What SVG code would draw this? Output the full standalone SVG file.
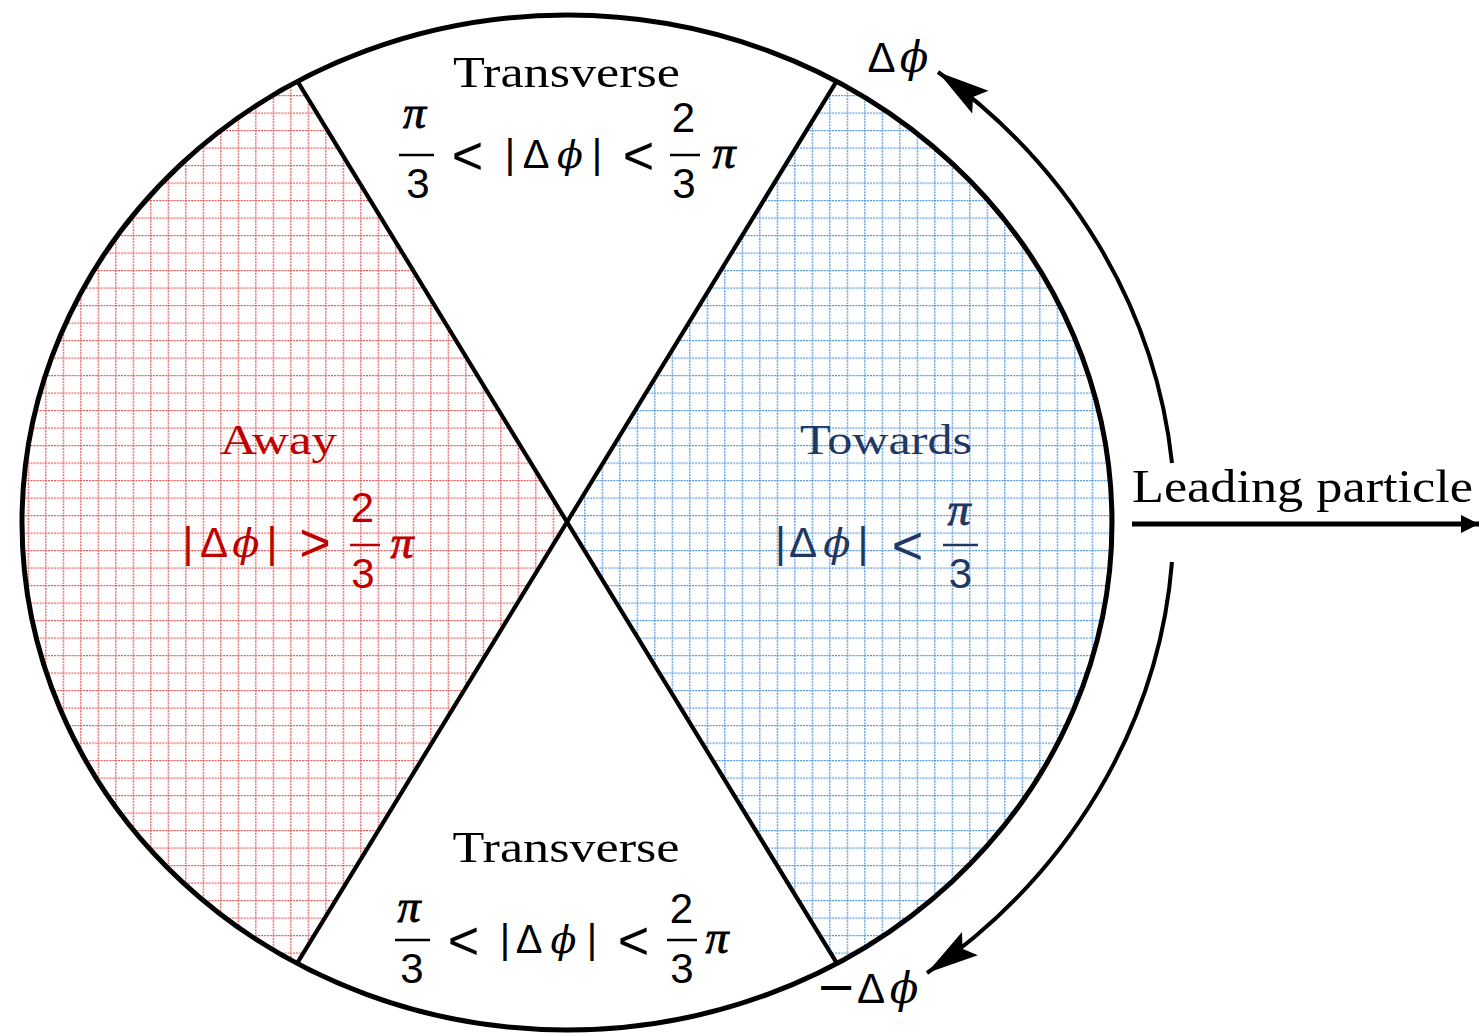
<svg xmlns="http://www.w3.org/2000/svg" width="1481" height="1035" viewBox="0 0 1481 1035">
<style>
.serif{font-family:"Liberation Serif","Times New Roman",serif;}
.sans{font-family:"Liberation Sans",Arial,sans-serif;}
.op{font-family:"Liberation Sans",Arial,sans-serif;}
.dj{font-family:"DejaVu Sans","Liberation Sans",sans-serif;}
.it{font-family:"DejaVu Serif","Liberation Serif",serif;font-style:italic;}
.pi{font-family:"Liberation Serif","DejaVu Serif",serif;font-style:italic;stroke-width:0.9;}
text{text-anchor:middle;}
.k{fill:#000;stroke:#000;stroke-width:0;}
.r{fill:#C00000;stroke:#C00000;stroke-width:0;}
.b{fill:#1F3864;stroke:#1F3864;stroke-width:0;}
.pi.k,.pi.r,.pi.b{stroke-width:0.9;}
.barK{stroke:#000;stroke-width:2.5;}
.barR{stroke:#C00000;stroke-width:2.5;}
.barB{stroke:#1F3864;stroke-width:2.5;}
.edge{fill:none;stroke:#000;stroke-width:4.2;}
</style>
<defs>
<pattern id="hatchRed" patternUnits="userSpaceOnUse" x="10.2" y="7.5" width="17.5" height="17.5">
<line x1="0" y1="0" x2="17.5" y2="0" stroke="#E04848" stroke-width="2.6" stroke-dasharray="1.8 1.2"/>
<line x1="0" y1="0" x2="0" y2="17.5" stroke="#E04848" stroke-width="2.6" stroke-dasharray="1.8 1.2"/>
</pattern>
<pattern id="hatchBlue" patternUnits="userSpaceOnUse" x="6.7" y="7.5" width="17.5" height="17.5">
<line x1="0" y1="0" x2="17.5" y2="0" stroke="#3F8BD9" stroke-width="2.6" stroke-dasharray="1.8 1.2"/>
<line x1="0" y1="0" x2="0" y2="17.5" stroke="#3F8BD9" stroke-width="2.6" stroke-dasharray="1.8 1.2"/>
</pattern>
<marker id="arcHead" markerUnits="userSpaceOnUse" viewBox="-54 -16 56 32" refX="0" refY="0" markerWidth="56" markerHeight="32" orient="auto">
<path d="M0,0 L-52,-14 L-43,0 L-52,14 Z" fill="#000"/>
</marker>
<marker id="lineHead" markerUnits="userSpaceOnUse" viewBox="-20 -10 21 20" refX="0" refY="0" markerWidth="21" markerHeight="20" orient="auto">
<path d="M0,0 L-18,-9 L-18,9 Z" fill="#000"/>
</marker>
</defs>

<g id="region-away">
<path d="M567,522 L297.5,81.3 A545,507.5 0 0 0 297.5,962.7 Z" fill="url(#hatchRed)"/>
<text class="serif r" x="278.5" y="454" font-size="42" textLength="117" lengthAdjust="spacingAndGlyphs">Away</text>
<text class="sans r" x="188" y="557" font-size="42">|</text>
<text class="sans r" x="214" y="557" font-size="42">Δ</text>
<text class="it r" x="246" y="557" font-size="40">ϕ</text>
<text class="sans r" x="272" y="557" font-size="42">|</text>
<text class="op r" x="315" y="561" font-size="54">&gt;</text>
<text class="sans r" x="362.5" y="522" font-size="42">2</text>
<line class="barR" x1="350" y1="545" x2="380" y2="545"/>
<text class="sans r" x="363" y="588" font-size="42">3</text>
<text class="pi r" x="402" y="558" font-size="46">π</text>
</g>

<g id="region-towards">
<path d="M567,522 L836.5,81.3 A545,507.5 0 0 1 836.5,962.7 Z" fill="url(#hatchBlue)"/>
<text class="serif b" x="886" y="454" font-size="42" textLength="172" lengthAdjust="spacingAndGlyphs">Towards</text>
<text class="sans b" x="780.5" y="557" font-size="42">|</text>
<text class="sans b" x="803" y="557" font-size="42">Δ</text>
<text class="it b" x="837" y="557" font-size="40">ϕ</text>
<text class="sans b" x="863" y="557" font-size="42">|</text>
<text class="op b" x="907.5" y="564" font-size="54">&lt;</text>
<text class="pi b" x="959" y="525" font-size="46">π</text>
<line class="barB" x1="943" y1="545" x2="978" y2="545"/>
<text class="sans b" x="960.5" y="588" font-size="42">3</text>
</g>

<g id="region-transverse-top">
<text class="serif k" x="566.5" y="87" font-size="45" textLength="227" lengthAdjust="spacingAndGlyphs">Transverse</text>
<text class="pi k" x="414.5" y="128" font-size="46">π</text>
<line class="barK" x1="399" y1="155" x2="434" y2="155"/>
<text class="sans k" x="418" y="198" font-size="42">3</text>
<text class="op k" x="467.5" y="174" font-size="54">&lt;</text>
<text class="sans k" x="510" y="168" font-size="40">|</text>
<text class="sans k" x="536" y="168" font-size="40">Δ</text>
<text class="it k" x="570" y="168" font-size="38">ϕ</text>
<text class="sans k" x="597" y="168" font-size="40">|</text>
<text class="op k" x="638.5" y="174" font-size="54">&lt;</text>
<text class="sans k" x="683.5" y="132" font-size="42">2</text>
<line class="barK" x1="670" y1="155" x2="700" y2="155"/>
<text class="sans k" x="684" y="198" font-size="42">3</text>
<text class="pi k" x="724" y="168" font-size="46">π</text>
</g>

<g id="region-transverse-bottom">
<text class="serif k" x="566" y="862" font-size="45" textLength="227" lengthAdjust="spacingAndGlyphs">Transverse</text>
<text class="pi k" x="409" y="922" font-size="46">π</text>
<line class="barK" x1="395" y1="940" x2="430" y2="940"/>
<text class="sans k" x="412" y="983" font-size="42">3</text>
<text class="op k" x="463.5" y="959" font-size="54">&lt;</text>
<text class="sans k" x="505" y="953" font-size="40">|</text>
<text class="sans k" x="529" y="953" font-size="40">Δ</text>
<text class="it k" x="563.5" y="953" font-size="38">ϕ</text>
<text class="sans k" x="592" y="953" font-size="40">|</text>
<text class="op k" x="633.5" y="959" font-size="54">&lt;</text>
<text class="sans k" x="681.5" y="923" font-size="42">2</text>
<line class="barK" x1="667" y1="940" x2="697" y2="940"/>
<text class="sans k" x="682" y="983" font-size="42">3</text>
<text class="pi k" x="717" y="953" font-size="46">π</text>
</g>

<g id="outline">
<ellipse cx="567" cy="522.5" rx="545" ry="507.5" fill="none" stroke="#000" stroke-width="5"/>
<line class="edge" x1="297.5" y1="81.3" x2="836.5" y2="962.7"/>
<line class="edge" x1="836.5" y1="81.3" x2="297.5" y2="962.7"/>
</g>

<g id="connectors">
<path d="M1172,463 A607,563 0 0 0 938,72" fill="none" stroke="#000" stroke-width="4" marker-end="url(#arcHead)"/>
<path d="M1172,562 A607,563 0 0 1 927,973" fill="none" stroke="#000" stroke-width="4" marker-end="url(#arcHead)"/>
<line x1="1132" y1="524" x2="1479" y2="524" stroke="#000" stroke-width="5" marker-end="url(#lineHead)"/>
</g>

<g id="label-delta-phi">
<text class="sans k" x="881.5" y="72" font-size="42">Δ</text>
<text class="it k" x="914" y="72" font-size="42">ϕ</text>
</g>
<g id="label-minus-delta-phi">
<text class="dj k" x="836" y="1003" font-size="48">−</text>
<text class="sans k" x="871" y="1003" font-size="42">Δ</text>
<text class="it k" x="904" y="1003" font-size="42">ϕ</text>
</g>
<g id="label-leading">
<text class="serif k" x="1302.5" y="502" font-size="46" textLength="341" lengthAdjust="spacingAndGlyphs">Leading particle</text>
</g>
</svg>
